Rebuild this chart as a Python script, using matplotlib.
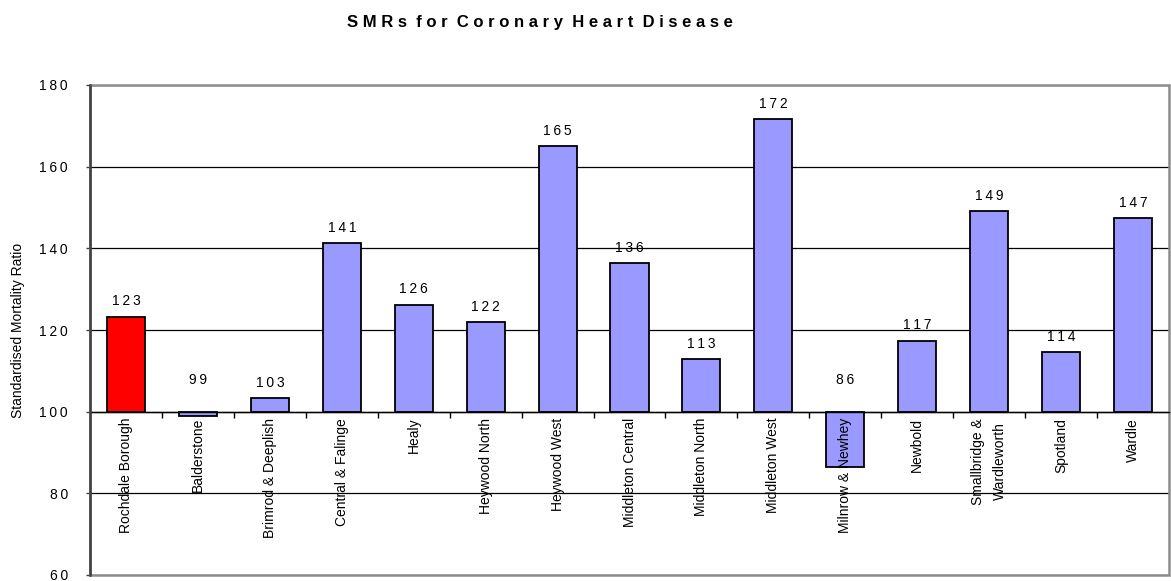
import matplotlib
matplotlib.use("Agg")
import matplotlib.pyplot as plt
import matplotlib.patches as mpatches
from matplotlib.ticker import FuncFormatter
import numpy as np

plt.rcParams['font.family'] = ['Liberation Sans', 'DejaVu Sans']

categories = ["Rochdale Borough", "Balderstone", "Brimrod & Deeplish", "Central & Falinge",
              "Healy", "Heywood North", "Heywood West", "Middleton Central", "Middleton North",
              "Middleton West", "Milnrow & Newhey", "Newbold", "Smallbridge &\nWardleworth",
              "Spotland", "Wardle"]
smr_values = [123.3, 98.9, 103.3, 141.3, 126.2, 121.9, 165.0, 136.4, 112.8, 171.6,
              86.4, 117.4, 149.1, 114.5, 147.4]
smr_labels = ["123", "99", "103", "141", "126", "122", "165", "136", "113", "172",
              "86", "117", "149", "114", "147"]
baseline = 100
yticks = [60, 80, 100, 120, 140, 160, 180]
title = "SMRs for Coronary Heart Disease"
ylabel = "Standardised Mortality Ratio"

THIN = "\u2009"

def spaced(s, sep=THIN):
    return sep.join(list(s))

fig = plt.figure(figsize=(11.71, 5.81), dpi=100)
ax = fig.add_axes([90/1171, 1-575/581, (1169-90)/1171, (575-85)/581])

x = np.arange(len(categories))
v = np.array(smr_values)
colors = ["#FF0000"] + ["#9999FF"] * (len(categories) - 1)
ax.bar(x, v - baseline, bottom=baseline, width=0.53, color=colors,
       edgecolor="black", linewidth=1.3, zorder=3)

ax.set_xlim(-0.5, len(categories) - 0.5)
ax.set_ylim(60, 180)
ax.set_yticks(yticks)
ax.yaxis.set_major_formatter(FuncFormatter(lambda val, pos: spaced(str(int(val)))))
ax.tick_params(axis='y', direction='out', length=3, width=1, color="#404040",
               labelsize=10, pad=13)

ax.yaxis.grid(True, color="black", linewidth=0.9, zorder=0)
ax.set_axisbelow(True)

# x axis crosses at 100
ax.spines['bottom'].set_position(('data', baseline))
ax.spines['bottom'].set_color('black')
ax.spines['bottom'].set_linewidth(1.0)
ax.spines['bottom'].set_zorder(4)
ax.set_xticks(np.arange(len(categories) - 1) + 0.5)
ax.set_xticklabels([])
ax.tick_params(axis='x', direction='out', length=4, width=1, color="black")

for s in ['top', 'right']:
    ax.spines[s].set_visible(False)
ax.spines['left'].set_color("#404040")
ax.spines['left'].set_linewidth(1.8)
ax.spines['left'].set_zorder(5)

# gray plot-area border
border = mpatches.Rectangle((0, 0), 1, 1, transform=ax.transAxes, fill=False,
                            edgecolor="#8c8c8c", linewidth=1.8, zorder=4, clip_on=False)
ax.add_patch(border)

# category labels just under the 100 line
for xi, cat in zip(x, categories):
    ax.text(xi, baseline - 1.5, cat, rotation=90, ha='center', va='top',
            multialignment='center', linespacing=1.7, fontsize=10, zorder=6)

# value labels
anchor = np.where(v < baseline, 104.0, v)
for xi, a, lab in zip(x, anchor, smr_labels):
    ax.annotate(spaced(lab), (xi, a), xytext=(0, 6), textcoords='offset points',
                ha='center', va='bottom', fontsize=10, zorder=6)

ax.set_ylabel(ylabel, fontsize=10, labelpad=14)
ax.yaxis.set_label_coords(-65/1079, 0.5)

fig.text(540/1171, 1 - 23/581, "  ".join(spaced(w, " ") for w in title.split(" ")),
         ha='center', va='center', fontsize=12, fontweight='bold')

fig.savefig("out.png", dpi=100)
